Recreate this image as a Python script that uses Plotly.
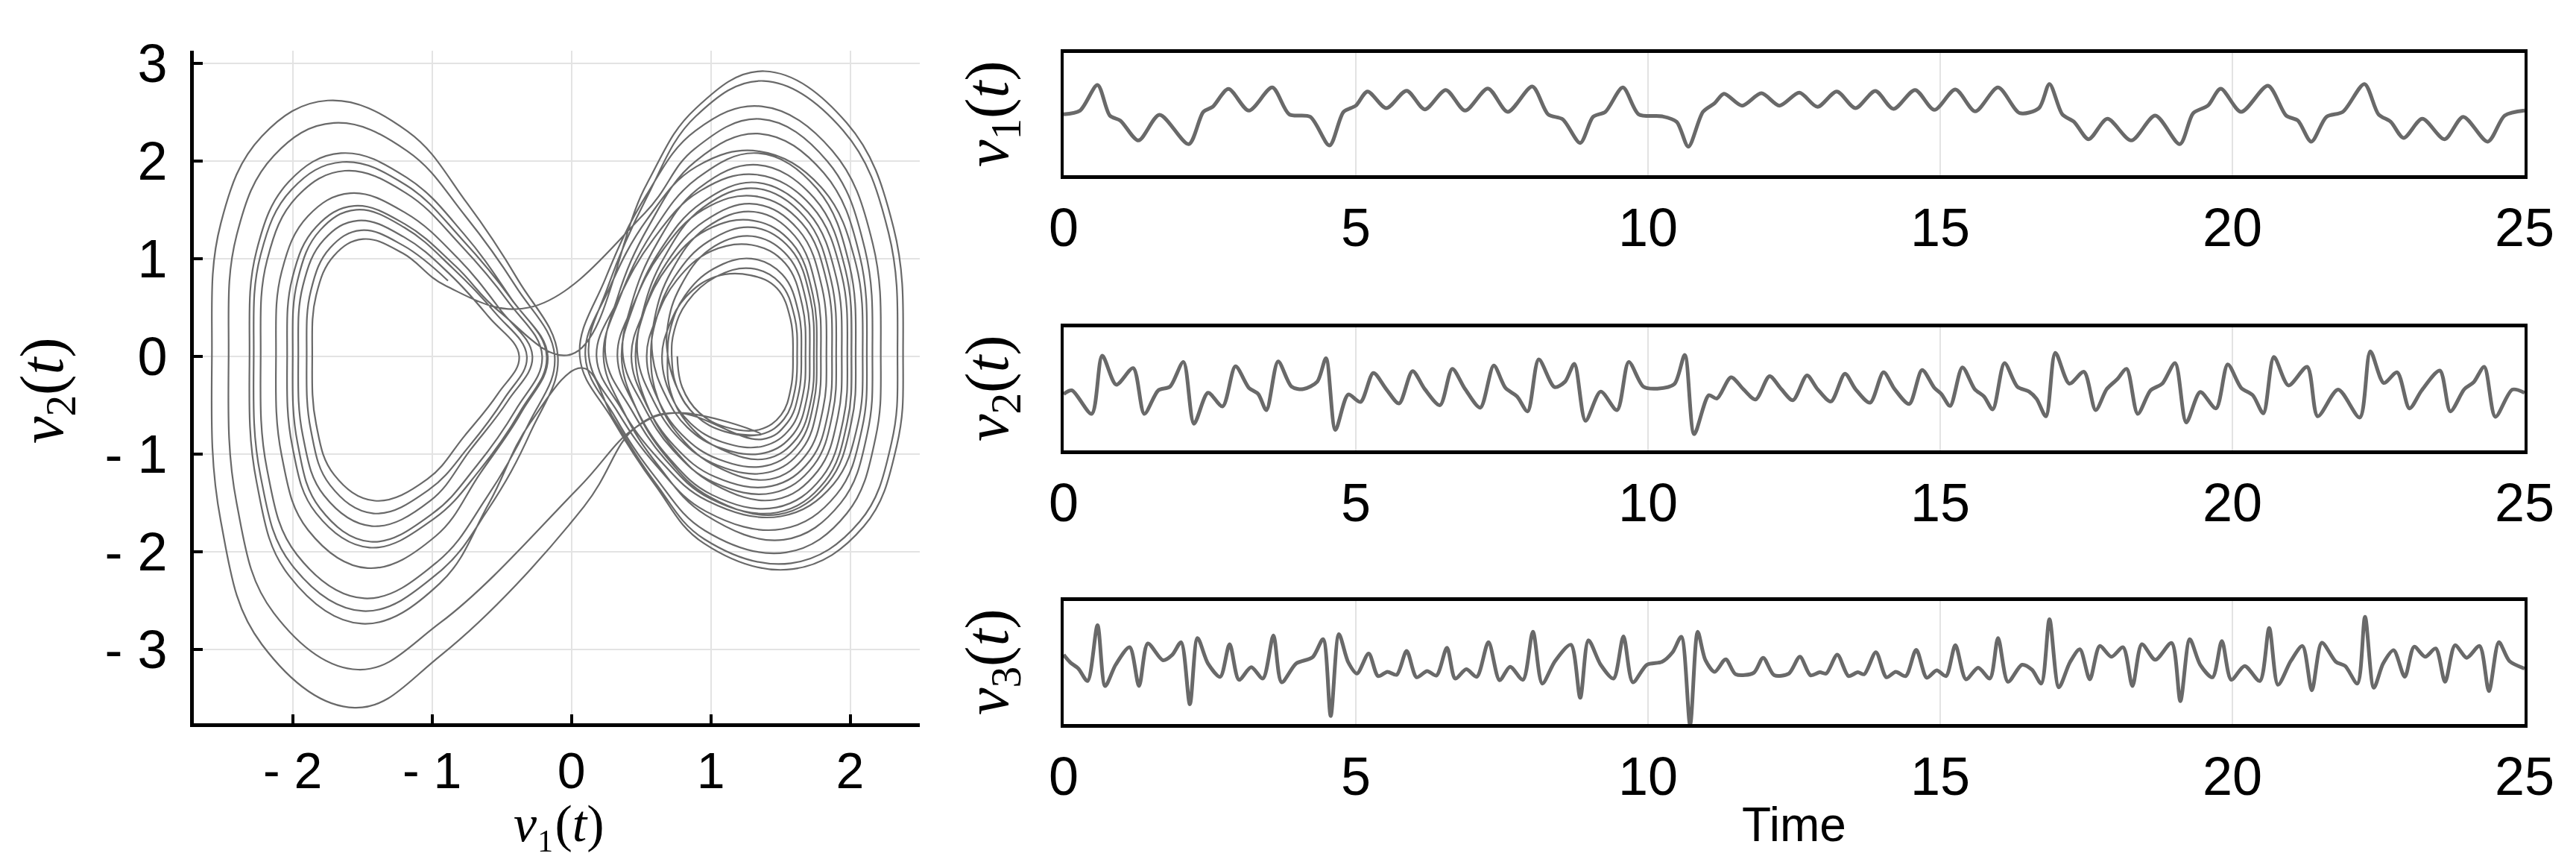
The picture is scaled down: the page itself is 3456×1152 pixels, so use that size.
import plotly.graph_objects as go

# ---------------- time series key points (t, value) ----------------
v1_pts = [(0.0,0.0),(0.28,0.15),(0.58,1.18),(0.79,-0.05),(0.97,-0.25),(1.28,-1.05),(1.64,-0.02),(2.14,-1.2),
          (2.39,0.1),(2.55,0.3),(2.82,1.02),(3.17,0.15),(3.57,1.08),(3.86,0.0),(4.22,-0.1),(4.55,-1.25),
          (4.79,0.1),(5.0,0.35),(5.2,0.92),(5.52,0.25),(5.87,0.95),(6.18,0.2),(6.54,0.98),(6.87,0.15),
          (7.26,1.04),(7.6,0.1),(8.02,1.12),(8.29,0.0),(8.54,-0.2),(8.84,-1.15),(9.06,-0.1),(9.27,0.1),
          (9.57,1.08),(9.84,0.0),(10.24,-0.08),(10.49,-0.3),(10.69,-1.3),(10.94,0.1),(11.14,0.45),(11.3,0.83),
          (11.61,0.35),(11.94,0.85),(12.25,0.35),(12.59,0.87),(12.9,0.3),(13.23,0.92),(13.55,0.25),(13.89,0.94),
          (14.2,0.22),(14.57,0.98),(14.9,0.18),(15.26,1.0),(15.6,0.12),(15.99,1.08),(16.36,0.05),(16.69,0.25),
          (16.87,1.22),(17.09,0.0),(17.29,-0.3),(17.54,-1.0),(17.86,-0.18),(18.27,-1.05),(18.68,-0.05),(19.1,-1.2),
          (19.33,0.05),(19.58,0.35),(19.8,1.03),(20.15,0.1),(20.61,1.15),(20.92,-0.05),(21.12,-0.25),(21.35,-1.1),
          (21.61,-0.1),(21.89,0.1),(22.26,1.22),(22.5,0.0),(22.71,-0.3),(22.93,-0.95),(23.25,-0.18),(23.63,-1.0),
          (23.95,-0.1),(24.37,-1.1),(24.66,-0.05),(25.0,0.15)]

v2_pts = [(0,-0.2),(0.14,-0.05),(0.48,-1.0),(0.66,1.35),(0.9,0.18),(1.19,0.85),(1.38,-1.0),(1.62,-0.05),
          (1.82,0.1),(2.05,1.1),(2.23,-1.4),(2.47,-0.15),(2.72,-0.7),(2.94,0.92),(3.17,0.05),(3.33,-0.2),
          (3.47,-0.85),(3.67,1.12),(3.9,0.1),(4.1,0.0),(4.34,0.3),(4.49,1.25),(4.65,-1.65),(4.87,-0.22),
          (5.08,-0.52),(5.3,0.65),(5.52,0.0),(5.74,-0.58),(5.97,0.73),(6.18,0.0),(6.44,-0.65),(6.65,0.82),
          (6.87,0.0),(7.13,-0.75),(7.36,0.95),(7.56,0.05),(7.76,-0.3),(7.94,-0.9),(8.13,1.2),(8.4,0.08),
          (8.58,0.3),(8.74,1.02),(8.93,-1.28),(9.19,-0.1),(9.47,-0.85),(9.67,1.1),(9.92,0.1),(10.16,0.02),
          (10.45,0.2),(10.63,1.38),(10.79,-1.82),(11.04,-0.25),(11.18,-0.38),(11.42,0.48),(11.63,0.0),(11.84,-0.42),
          (12.08,0.52),(12.28,0.0),(12.48,-0.45),(12.72,0.55),(12.9,0.0),(13.13,-0.5),(13.37,0.62),(13.55,0.0),
          (13.8,-0.55),(14.03,0.68),(14.22,0.0),(14.47,-0.6),(14.69,0.77),(14.9,0.05),(15.02,-0.2),(15.17,-0.68),
          (15.38,0.88),(15.59,0.0),(15.75,-0.3),(15.9,-0.82),(16.1,1.05),(16.32,0.1),(16.52,-0.1),(16.65,-0.4),
          (16.81,-1.1),(16.97,1.47),(17.21,0.22),(17.46,0.7),(17.66,-0.85),(17.85,0.0),(18.03,0.4),(18.19,0.82),
          (18.38,-1.0),(18.6,-0.05),(18.8,0.22),(19.02,1.05),(19.21,-1.35),(19.45,-0.12),(19.72,-0.78),(19.92,1.0),
          (20.15,0.05),(20.35,-0.25),(20.53,-0.98),(20.71,1.3),(20.96,0.15),(21.28,0.9),(21.46,-1.1),(21.81,-0.02),
          (22.18,-1.15),(22.36,1.53),(22.59,0.25),(22.82,0.68),(23.03,-0.78),(23.24,-0.05),(23.55,0.75),(23.73,-0.9),
          (23.97,0.0),(24.13,0.28),(24.31,0.9),(24.5,-1.12),(24.79,-0.02),(25.0,-0.15)]

v3_pts = [(0,0.35),(0.11,0.05),(0.25,-0.2),(0.41,-0.7),(0.58,1.53),(0.71,-0.9),(0.89,-0.05),(1.13,0.65),
          (1.29,-0.9),(1.44,0.8),(1.7,0.13),(1.86,0.35),(2.01,0.85),(2.16,-1.63),(2.29,1.02),(2.47,0.0),
          (2.68,-0.53),(2.84,0.77),(3.0,-0.65),(3.21,-0.15),(3.41,-0.6),(3.59,1.12),(3.73,-0.75),(3.98,0.0),
          (4.26,0.25),(4.44,0.97),(4.57,-2.1),(4.71,1.17),(4.87,0.05),(5.02,-0.4),(5.22,0.4),(5.38,-0.5),
          (5.54,-0.33),(5.7,-0.45),(5.87,0.5),(6.04,-0.55),(6.22,-0.3),(6.38,-0.48),(6.56,0.63),(6.7,-0.6),
          (6.89,-0.23),(7.07,-0.53),(7.27,0.85),(7.46,-0.67),(7.64,-0.13),(7.86,-0.65),(8.03,1.27),(8.19,-0.8),
          (8.41,0.1),(8.68,0.75),(8.84,-1.37),(8.98,0.93),(9.19,-0.05),(9.41,-0.6),(9.58,1.08),(9.74,-0.75),
          (9.98,-0.05),(10.24,0.07),(10.42,0.45),(10.57,1.07),(10.72,-2.45),(10.85,1.27),(10.98,0.15),(11.14,-0.33),
          (11.33,0.17),(11.5,-0.43),(11.81,-0.37),(11.97,0.23),(12.16,-0.47),(12.41,-0.4),(12.6,0.27),(12.78,-0.47),
          (12.94,-0.35),(13.05,-0.4),(13.24,0.35),(13.43,-0.5),(13.59,-0.35),(13.7,-0.43),(13.9,0.45),(14.08,-0.55),
          (14.24,-0.33),(14.41,-0.5),(14.59,0.55),(14.77,-0.57),(14.94,-0.27),(15.1,-0.5),(15.26,0.73),(15.44,-0.63),
          (15.65,-0.17),(15.85,-0.6),(15.99,1.02),(16.16,-0.73),(16.4,-0.05),(16.57,-0.25),(16.73,-0.8),(16.87,1.77),
          (17.03,-0.95),(17.22,0.05),(17.39,0.57),(17.56,-0.63),(17.73,0.7),(17.93,0.27),(18.13,0.65),(18.29,-0.9),
          (18.45,0.77),(18.68,0.15),(18.96,0.82),(19.11,-1.5),(19.27,0.97),(19.45,-0.05),(19.66,-0.55),(19.82,0.9),
          (19.98,-0.65),(20.21,-0.1),(20.47,-0.7),(20.63,1.42),(20.78,-0.85),(21.0,0.1),(21.2,0.7),(21.36,-1.07),
          (21.53,0.83),(21.77,0.07),(21.93,-0.1),(22.14,-0.8),(22.27,1.87),(22.42,-0.97),(22.58,0.0),(22.76,0.53),
          (22.95,-0.53),(23.11,0.67),(23.3,0.27),(23.48,0.6),(23.64,-0.73),(23.81,0.73),(24.01,0.23),(24.23,0.7),
          (24.39,-1.1),(24.56,0.85),(24.74,0.1),(25.0,-0.2)]

# ---------------- phase portrait: loop extents ----------------
# right lobe loops (inner -> outer): leftmost x on y=0, top y, rightmost x on y=0, bottom y
R_xl = [0.76,0.72,0.69,0.65,0.61,0.57,0.54,0.50,0.46,0.43,0.40,0.36,0.33,0.28,0.23,0.18,0.14,0.10,0.10,0.08,0.06]
R_yt = [0.83,0.90,1.00,1.14,1.23,1.32,1.39,1.48,1.56,1.64,1.72,1.78,1.86,1.96,2.08,2.10,2.28,2.43,2.56,2.82,2.92]
R_xr = [1.59,1.62,1.65,1.68,1.71,1.74,1.76,1.79,1.83,1.87,1.90,1.94,1.98,2.01,2.04,2.09,2.12,2.16,2.22,2.34,2.38]
R_yb = [-0.75,-0.80,-0.85,-0.92,-0.99,-1.05,-1.12,-1.19,-1.26,-1.33,-1.40,-1.47,-1.55,-1.60,-1.62,-1.64,-1.77,-1.88,-2.01,-2.12,-2.18]
# left lobe loops (inner -> outer): rightmost x on y=0, top y, leftmost x on y=0, bottom y
L_xr = [-0.41,-0.38,-0.34,-0.30,-0.26,-0.22,-0.18,-0.15,-0.12,-0.10,-0.08]
L_yt = [1.20,1.29,1.39,1.50,1.54,1.67,1.90,1.99,2.08,2.39,2.62]
L_xl = [-1.86,-1.90,-1.96,-2.00,-2.04,-2.12,-2.23,-2.28,-2.31,-2.46,-2.58]
L_yb = [-1.48,-1.61,-1.74,-1.90,-1.96,-2.17,-2.48,-2.61,-2.74,-3.21,-3.60]

# route of the trajectory: (lobe, loop, first outline point, number of points, direction)
# or ("P", crossing points through the waist)
route = [
    ("R", 0, 0, 14, 1), ("R", 3, 0, 14, 1), ("R", 6, 0, 14, 1), ("R", 9, 0, 14, 1), ("R", 12, 0, 14, 1),
    ("R", 15, 0, 14, 1), ("R", 18, 0, 14, 1), ("R", 20, 0, 13, 1),
    ("P", [(0.0, 0.02)]),
    ("L", 4, 1, 14, 1), ("L", 7, 1, 14, 1), ("L", 10, 1, 11, 1),
    ("P", [(0.09, -1.54), (0.46, -0.73), (0.75, -0.58)]),
    ("R", 2, 4, 14, 1), ("R", 5, 4, 14, 1), ("R", 8, 4, 14, 1), ("R", 11, 4, 14, 1), ("R", 14, 4, 14, 1),
    ("R", 17, 4, 9, 1),
    ("P", [(-0.30, 0.50)]),
    ("L", 0, 2, 14, 1), ("L", 2, 2, 14, 1), ("L", 5, 2, 14, 1), ("L", 8, 2, 12, 1),
    ("P", [(0.08, -0.12)]),
    ("R", 19, 1, 14, 1), ("R", 16, 1, 14, 1), ("R", 13, 1, 14, 1), ("R", 10, 1, 14, 1), ("R", 7, 1, 14, 1),
    ("R", 4, 1, 14, 1), ("R", 1, 1, 18, 1),
    ("P", [(0.75, -0.58), (0.46, -0.73), (0.05, -1.35)]),
    ("L", 9, 11, 14, -1), ("L", 6, 11, 14, -1), ("L", 3, 11, 14, -1), ("L", 1, 11, 10, -1),
]

# loop outline shapes (fractions of each loop's extents), counter-clockwise;
# inner loops are rounded, outer loops are pointed toward the origin
R_TPL_IN = [(-1, 0), (-0.93, -0.42), (-0.68, -0.77), (-0.28, -0.97), (0.3, -1.0), (0.75, -0.8), (0.96, -0.42),
            (1.0, 0), (0.95, 0.45), (0.66, 0.84), (0.1, 1.0), (-0.42, 0.9), (-0.8, 0.62), (-0.97, 0.3)]
R_TPL_OUT = [(-1, 0), (-0.8, -0.3), (-0.55, -0.6), (-0.25, -0.88), (0.3, -1.0), (0.75, -0.8), (0.96, -0.42),
             (1.0, 0), (0.94, 0.45), (0.64, 0.82), (0.12, 1.0), (-0.3, 0.87), (-0.6, 0.6), (-0.85, 0.28)]
L_TPL = [(1, 0), (0.75, 0.3), (0.45, 0.6), (0.1, 0.88), (-0.35, 1.0), (-0.72, 0.86), (-0.95, 0.52),
         (-1, 0), (-0.95, -0.47), (-0.72, -0.82), (-0.2, -1.0), (0.3, -0.85), (0.6, -0.55), (0.85, -0.25)]
R_CX, L_CX = 1.25, -1.3


def extents(lobe, i):
    if lobe == "R":
        return (R_xl[i], R_xr[i], R_yt[i], R_yb[i], i / (len(R_xl) - 1))
    return (L_xl[i], L_xr[i], L_yt[i], L_yb[i], 0.0)


def outline_point(lobe, ext, k):
    left, right, top, bot, w = ext
    if lobe == "R":
        a, b = R_TPL_IN[k], R_TPL_OUT[k]
        u, v = a[0] * (1 - w) + b[0] * w, a[1] * (1 - w) + b[1] * w
        cx = R_CX
    else:
        u, v = L_TPL[k]
        cx = L_CX
    x = cx + u * ((right - cx) if u > 0 else (cx - left))
    y = v * (top if v > 0 else -bot)
    return (x, y)


path = []
for n_step, step in enumerate(route):
    if step[0] == "P":
        path += step[1]
        continue
    lobe, i, s, n, d = step
    e0 = extents(lobe, i)
    nxt = route[n_step + 1] if n_step + 1 < len(route) else None
    # within a run the orbit steps to the next loop over the last few outline points
    e1 = extents(lobe, nxt[1]) if (nxt is not None and nxt[0] == lobe) else e0
    for k in range(n):
        f = max(0.0, (k - 10) / 4.0)
        ext = tuple(p * (1 - f) + q * f for p, q in zip(e0, e1))
        path.append(outline_point(lobe, ext, (s + k * d) % 14))

ph_x = [p[0] for p in path]
ph_y = [p[1] for p in path]

# the page adds an 8 px body margin; the figure is sized so the page is 3456 x 1152
PAGE_W, PAGE_H, OFF = 3456, 1152, 8
W, H = PAGE_W - 2 * OFF, PAGE_H - 2 * OFF
LINE = "#696969"
GRID = "#e3e3e3"


def fx(p):
    return (p - OFF) / W


def fy(p):
    return 1 - (p - OFF) / H


fig = go.Figure()
fig.add_trace(go.Scatter(x=ph_x, y=ph_y, mode="lines", line=dict(color=LINE, width=2.2, shape="spline", smoothing=1.15),
                         xaxis="x", yaxis="y", showlegend=False, hoverinfo="skip"))

for k, pts in enumerate([v1_pts, v2_pts, v3_pts]):
    fig.add_trace(go.Scatter(x=[p[0] for p in pts], y=[p[1] for p in pts], mode="lines",
                             line=dict(color=LINE, width=5, shape="spline", smoothing=0.8),
                             xaxis="x%d" % (k + 2), yaxis="y%d" % (k + 2), showlegend=False, hoverinfo="skip"))

tick_font = dict(family="Liberation Sans, Arial", size=72, color="black")
tick_font_lx = dict(family="Liberation Sans, Arial", size=68, color="black")

layout = dict(
    width=W, height=H, margin=dict(l=0, r=0, t=0, b=0, autoexpand=False),
    paper_bgcolor="white", plot_bgcolor="white", showlegend=False,
    xaxis=dict(domain=[fx(260), fx(1234)], range=[-2.71, 2.5], anchor="y", automargin=False,
               tickvals=[-2, -1, 0, 1, 2], ticktext=["- 2", "- 1", "0", "1", "2"],
               showline=True, linecolor="black", linewidth=5, ticks="inside", ticklen=12, tickwidth=4,
               tickcolor="black", showgrid=True, gridcolor=GRID, gridwidth=2, zeroline=False,
               tickfont=tick_font_lx, ticklabelstandoff=0),
    yaxis=dict(domain=[fy(970), fy(68)], range=[-3.76, 3.13], anchor="x", automargin=False,
               tickvals=[-3, -2, -1, 0, 1, 2, 3], ticktext=["- 3", "- 2", "- 1", "0", "1", "2", "3"],
               showline=True, linecolor="black", linewidth=5, ticks="inside", ticklen=12, tickwidth=4,
               tickcolor="black", showgrid=True, gridcolor=GRID, gridwidth=2, zeroline=False,
               tickfont=tick_font, ticklabelstandoff=16),
)

boxes = [(71, 235, [-2.45, 2.47]), (439, 604, [-2.48, 2.5]), (806, 971, [-2.42, 2.5])]
for k, (top, bot, yr) in enumerate(boxes):
    n = k + 2
    layout["xaxis%d" % n] = dict(domain=[fx(1427), fx(3387)], range=[0, 25], anchor="y%d" % n, automargin=False,
                                 tickvals=[0, 5, 10, 15, 20, 25], showline=True, mirror=True,
                                 linecolor="black", linewidth=5, ticks="", showgrid=True, gridcolor=GRID,
                                 gridwidth=2, zeroline=False, tickfont=tick_font, ticklabelstandoff=4)
    layout["yaxis%d" % n] = dict(domain=[fy(bot), fy(top)], range=yr, anchor="x%d" % n, automargin=False,
                                 showline=True, mirror=True, linecolor="black", linewidth=4,
                                 showticklabels=False, ticks="", showgrid=False, zeroline=False)

fig.update_layout(**layout)

serif = dict(family="Liberation Serif, DejaVu Serif", size=82, color="black")
ann = [
    dict(x=fx(62), y=fy(524), text="<i>v</i><sub>2</sub>(<i>t</i>)", textangle=-90, font=serif,
         yanchor="middle"),
    dict(x=fx(750), y=fy(1145), text="<i>v</i>\u2081(<i>t</i>)", textangle=0,
         font=dict(family="Liberation Serif, DejaVu Serif", size=70, color="black"), yanchor="bottom"),
    dict(x=fx(1330), y=fy(153), text="<i>v</i><sub>1</sub>(<i>t</i>)", textangle=-90, font=serif,
         yanchor="middle"),
    dict(x=fx(1330), y=fy(521), text="<i>v</i><sub>2</sub>(<i>t</i>)", textangle=-90, font=serif,
         yanchor="middle"),
    dict(x=fx(1330), y=fy(888), text="<i>v</i><sub>3</sub>(<i>t</i>)", textangle=-90, font=serif,
         yanchor="middle"),
    dict(x=fx(2407), y=fy(1144), text="Time", textangle=0, yanchor="bottom",
         font=dict(family="Liberation Sans, Arial", size=64, color="black")),
]
for a in ann:
    a.update(xref="paper", yref="paper", xanchor="center", showarrow=False)
fig.update_layout(annotations=ann)

fig.write_html("out.html")
